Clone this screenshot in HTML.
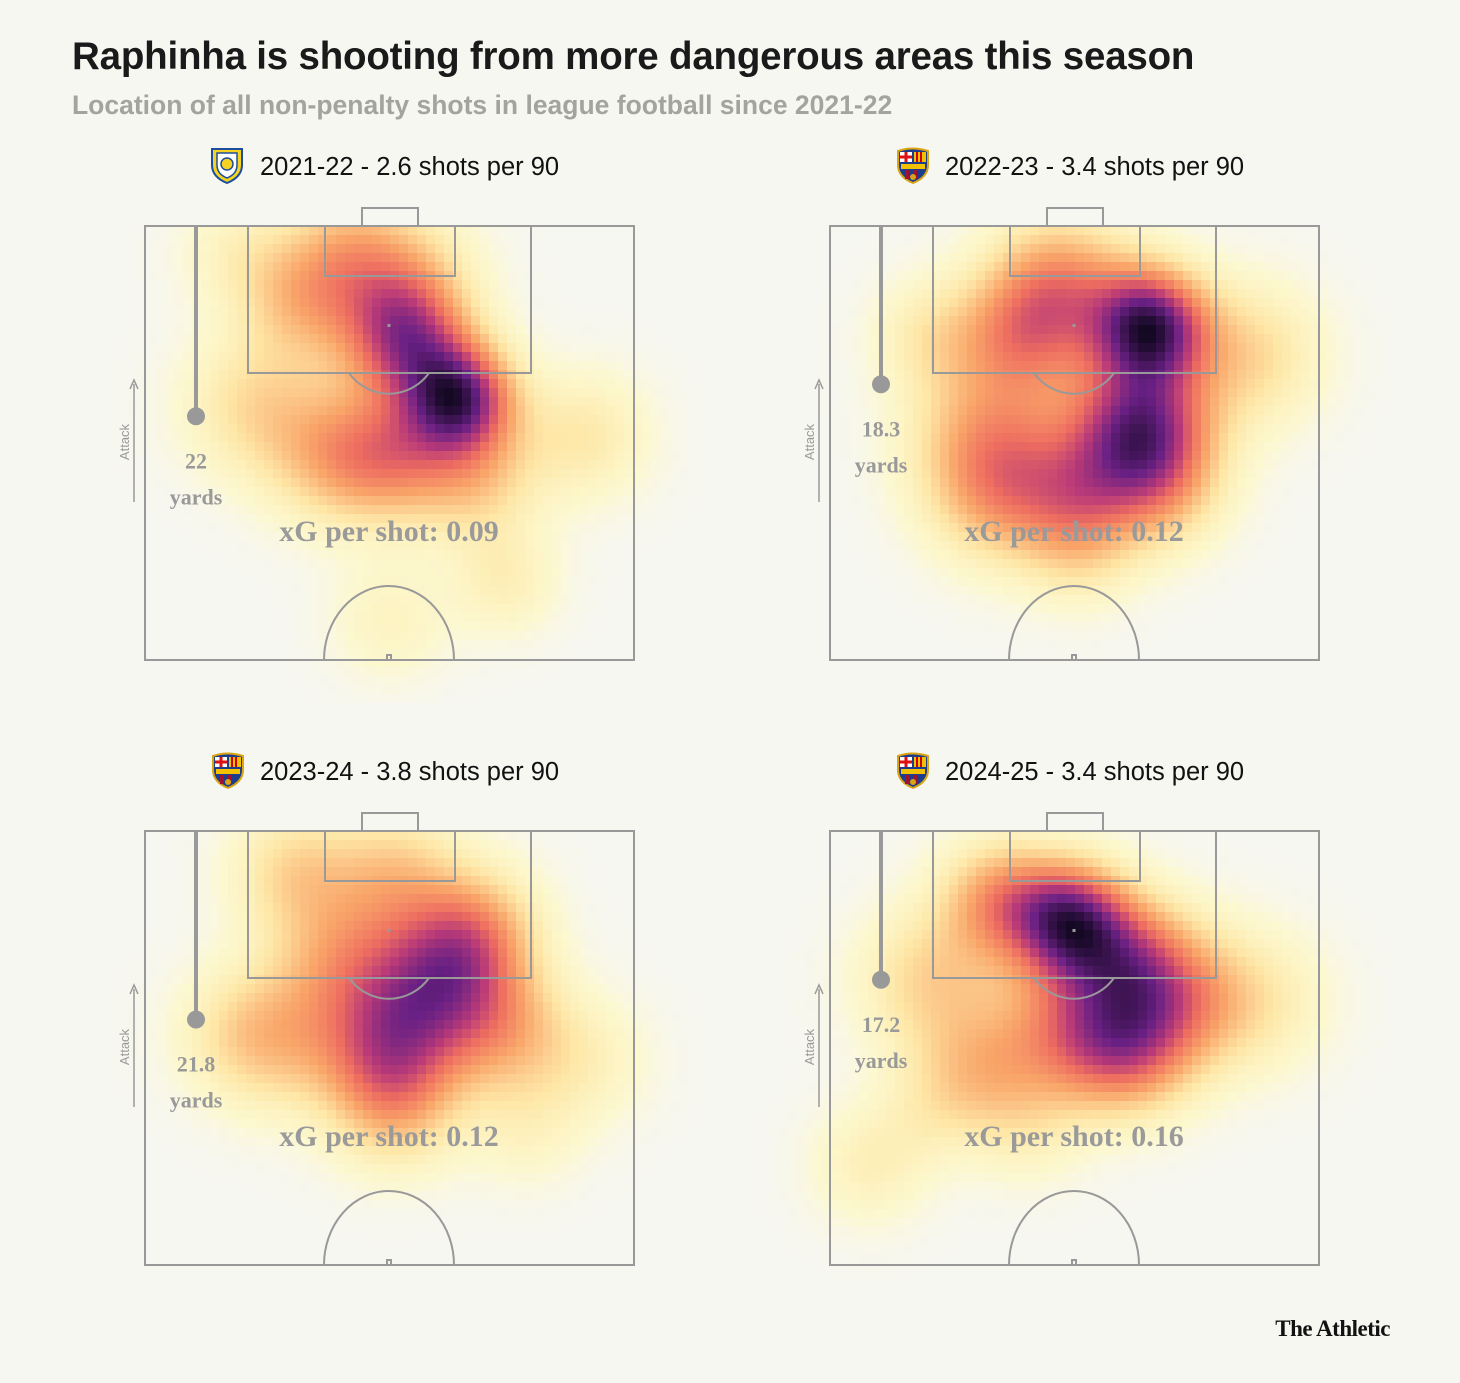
<!DOCTYPE html>
<html><head><meta charset="utf-8">
<style>
html,body{margin:0;padding:0;background:#f7f7f2;}
body{width:1460px;height:1383px;position:relative;overflow:hidden;font-family:"Liberation Sans",sans-serif;}
.t{position:absolute;white-space:nowrap;}
#title{left:72px;top:35px;font-size:38.5px;font-weight:bold;color:#1a1a1a;letter-spacing:-0.2px;}
#sub{left:72px;top:90px;font-size:26.5px;font-weight:bold;color:#a3a3a0;letter-spacing:0px;}
canvas{position:absolute;image-rendering:pixelated;}
svg.ov{position:absolute;left:0;top:0;}
#brand{right:70px;top:1316px;font-size:23px;font-weight:bold;color:#121212;font-family:"Liberation Serif",serif;letter-spacing:-0.5px;}
</style></head><body>
<div id="title" class="t">Raphinha is shooting from more dangerous areas this season</div>
<div id="sub" class="t">Location of all non-penalty shots in league football since 2021-22</div>
<div id="brand" class="t">The Athletic</div>
<svg class="ov" id="ov" width="1460" height="1383"></svg>
<script>
// ---- data ----
const seasons=["2021-22","2022-23","2023-24","2024-25"];
const shotsPer90=[2.6,3.4,3.8,3.4];
const avgDistance=[22,18.3,21.8,17.2];
const xgPerShot=["0.09","0.12","0.12","0.16"];
const clubs=["leeds","barca","barca","barca"];
const peakLevel=[1.0,1.0,0.84,1.0];
// density blobs per season: [x px across pitch, y px from goal line, weight, sigma]
const blobs0=[[314,172,1.0,38],[262,115,0.7,42],[250,55,0.45,50],[160,70,0.4,45],[110,180,0.3,50],[190,230,0.4,48],[330,250,0.35,45],[440,210,0.25,45],[245,395,0.16,42],[360,355,0.2,38],[90,25,0.15,40],[250,230,0.45,45],[200,10,0.2,40]];
const blobs1=[[320,100,1.0,40],[310,200,0.85,48],[230,60,0.5,50],[190,110,0.4,45],[160,210,0.4,55],[170,270,0.35,50],[250,270,0.4,45],[330,260,0.35,45],[420,130,0.3,50],[100,110,0.2,40],[250,330,0.16,40]];
const blobs2=[[245,220,0.8,50],[295,150,0.8,50],[330,100,0.55,45],[200,130,0.5,50],[150,40,0.4,45],[250,40,0.4,45],[130,210,0.4,50],[360,200,0.45,45],[250,280,0.35,45],[440,230,0.22,45],[90,200,0.18,45],[380,300,0.18,40]];
const blobs3=[[240,90,1.0,40],[170,70,0.55,42],[300,130,0.6,45],[240,200,0.55,50],[300,220,0.55,45],[100,150,0.35,50],[350,170,0.45,50],[150,240,0.35,45],[430,170,0.22,50],[40,334,0.2,42],[100,280,0.12,40],[200,300,0.15,40]];
const allBlobs=[blobs0,blobs1,blobs2,blobs3];
// ---- layout ----
const origins=[[145,226],[830,226],[145,831],[830,831]];
const PW=489,PH=434,YD=8.65;
const stops=[[0,[255,250,200,0]],[0.07,[255,248,185,0.6]],[0.22,[254,228,160,0.95]],[0.4,[249,165,105,1]],[0.55,[238,110,96,1]],[0.68,[185,58,120,1]],[0.82,[105,32,132,1]],[1,[20,8,35,1]]];
function col(d){for(let i=1;i<stops.length;i++){if(d<=stops[i][0]){const a=stops[i-1],b=stops[i],t=(d-a[0])/(b[0]-a[0]);return a[1].map((v,k)=>v+(b[1][k]-v)*t);}}return stops[stops.length-1][1];}
const ov=document.getElementById('ov');
const NS='http://www.w3.org/2000/svg';
function el(tag,attrs,parent){const e=document.createElementNS(NS,tag);for(const k in attrs)e.setAttribute(k,attrs[k]);(parent||ov).appendChild(e);return e;}
const C=9;
for(let p=0;p<4;p++){
  const [ox,oy]=origins[p];
  const cv=document.createElement('canvas');
  const padX=70,padB=40;
  const W=PW+2*padX,H=PH+padB;
  const nx=Math.ceil(W/C),ny=Math.ceil(H/C);
  cv.width=nx;cv.height=ny;
  cv.style.left=(ox-padX)+'px';cv.style.top=oy+'px';
  cv.style.width=nx*C+'px';cv.style.height=ny*C+'px';
  
  
  document.body.insertBefore(cv,ov);
  const ctx=cv.getContext('2d');const img=ctx.createImageData(nx,ny);
  const vals=[];let mx=0;
  for(let j=0;j<ny;j++)for(let i=0;i<nx;i++){
    const x=i*C+C/2-padX,y=j*C+C/2;let s=0;
    for(const b of allBlobs[p]){const dx=x-b[0],dy=y-b[1];s+=b[2]*Math.exp(-(dx*dx+dy*dy)/(2*b[3]*b[3]));}
    vals.push(s);if(s>mx)mx=s;}
  for(let k=0;k<vals.length;k++){const c=col(Math.min(1,peakLevel[p]*vals[k]/mx));img.data[k*4]=c[0];img.data[k*4+1]=c[1];img.data[k*4+2]=c[2];img.data[k*4+3]=c[3]*255;}
  ctx.putImageData(img,0,0);
  // pitch
  const g=el('g',{stroke:'#999',fill:'none','stroke-width':2});
  
  
  el('rect',{x:ox,y:oy,width:PW,height:PH},g);
  const cx=ox+244;
  el('rect',{x:ox+103,y:oy,width:283,height:147},g);
  el('rect',{x:ox+180,y:oy,width:130,height:50},g);
  el('rect',{x:ox+217,y:oy-18,width:56,height:18},g);
  el('path',{d:`M${cx-40} ${oy+147} A50 52 0 0 0 ${cx+40} ${oy+147}`},g);
  el('path',{d:`M${cx-65} ${oy+PH} A65 74 0 0 1 ${cx+65} ${oy+PH}`},g);
  el('rect',{x:cx-1.5,y:oy+98,width:3,height:3,fill:'#999',stroke:'none'},g);
  el('rect',{x:cx-2,y:oy+PH-5,width:4,height:5},g);
  // distance marker
  const lx=ox+51,dy=oy+avgDistance[p]*YD;
  const dl=el('line',{x1:lx,y1:oy,x2:lx,y2:dy,stroke:'#999','stroke-width':4});
  
  
  el('circle',{cx:lx,cy:dy,r:9,fill:'#999'});
  const t1=el('text',{x:lx,y:dy+52,'text-anchor':'middle','font-size':22,'font-weight':'bold',fill:'#999','font-family':'Liberation Serif, serif'});t1.textContent=avgDistance[p];
  
  
  const t2=el('text',{x:lx,y:dy+88,'text-anchor':'middle','font-size':22,'font-weight':'bold',fill:'#999','font-family':'Liberation Serif, serif'});t2.textContent='yards';
  // attack arrow
  el('line',{x1:ox-11,y1:oy+276,x2:ox-11,y2:oy+158,stroke:'#999','stroke-width':1.5});
  el('path',{d:`M${ox-15} ${oy+163} L${ox-11} ${oy+154} L${ox-7} ${oy+163}`,fill:'none',stroke:'#999','stroke-width':1.5});
  const at=el('text',{x:0,y:0,transform:`translate(${ox-16},${oy+216}) rotate(-90)`,'text-anchor':'middle','font-size':13,fill:'#999'});at.textContent='Attack';
  
  
  const xg=el('text',{x:cx,y:oy+315,'text-anchor':'middle','font-size':30,'font-weight':'bold',fill:'#9a9a9a','font-family':'Liberation Serif, serif'});xg.textContent='xG per shot: '+xgPerShot[p];
  
  
  // header
  const hx=ox+115,hy=oy-60;
  const h=el('text',{x:hx,y:hy+9,'font-size':25.5,fill:'#121212'});h.textContent=seasons[p]+' - '+shotsPer90[p]+' shots per 90';
  
  
  const cr=el('g',{transform:`translate(${ox+66},${hy-19})`});
  
  
  if(clubs[p]==='leeds'){
    el('path',{d:'M1 2 L31 2 L31 18 Q31 30 16 36 Q1 30 1 18 Z',fill:'#f5d320',stroke:'#1d4e9e','stroke-width':2},cr);
    el('path',{d:'M6 6 L26 6 L26 18 Q26 27 16 31 Q6 27 6 18 Z',fill:'#fff',stroke:'#1d4e9e','stroke-width':1.5},cr);
    el('circle',{cx:16,cy:17,r:6,fill:'#f5d320',stroke:'#1d4e9e','stroke-width':1.5},cr);
  }else{
    el('path',{d:'M2 4 Q16 -1 32 4 L32 18 Q32 30 17 36 Q2 30 2 18 Z',fill:'#1c3c8c',stroke:'#d9a514','stroke-width':2},cr);
    el('rect',{x:4,y:5,width:12,height:10,fill:'#fff'},cr);
    el('rect',{x:8.5,y:5,width:3,height:10,fill:'#d11'},cr);
    el('rect',{x:4,y:8.5,width:12,height:3,fill:'#d11'},cr);
    el('rect',{x:18,y:5,width:12,height:10,fill:'#f2c200'},cr);
    el('rect',{x:20,y:5,width:2,height:10,fill:'#c00'},cr);el('rect',{x:24,y:5,width:2,height:10,fill:'#c00'},cr);
    el('rect',{x:5,y:17,width:24,height:5,fill:'#f2c200'},cr);
    el('rect',{x:9,y:23,width:4,height:9,fill:'#a01030'},cr);el('rect',{x:17,y:23,width:4,height:9,fill:'#a01030'},cr);
    el('circle',{cx:17,cy:30,r:3,fill:'#d9a514'},cr);
  }
}
</script>
</body></html>
